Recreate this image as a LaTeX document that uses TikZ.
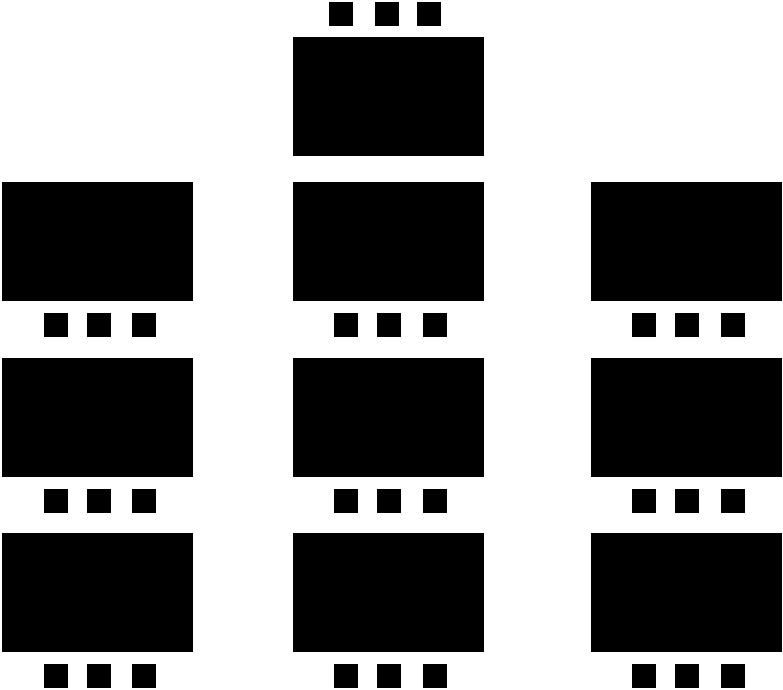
\documentclass[tikz,border=0pt]{standalone}
\usetikzlibrary{positioning}
\tikzset{
	blocco/.style={fill=black, inner sep=0pt, minimum width=191pt, minimum height=119pt},
	punto/.style={fill=black, inner sep=0pt, minimum size=24pt}
}
\begin{document}
\begin{tikzpicture}[x=1pt, y=-1pt]
		\useasboundingbox (0,0) rectangle (783,689);
		% blocco in alto
		\node[blocco] (T) at (388,96.5) {};
		\foreach \dx [count=\i] in {-47,-1,41}
			\node[punto, above=11pt of T.north, xshift=\dx pt] (T\i) {};
		
		% griglia di blocchi
		\foreach \c/\x in {L/97.5, M/388, R/686}
			\foreach \r/\y in {1/241.5, 2/417.5, 3/592.5} {
				\node[blocco] (\c\r) at (\x,\y) {};
				\foreach \dx [count=\i] in {-42,1,46.5}
					\node[punto, below=12pt of \c\r.south, xshift=\dx pt] (\c\r-\i) {};
			}
	\end{tikzpicture}
\end{document}
